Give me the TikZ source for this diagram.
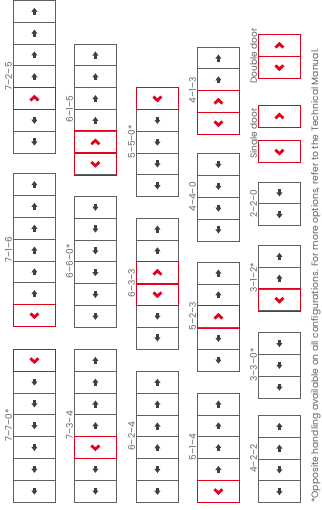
\documentclass[tikz,border=0pt]{standalone}
\usepackage{fontspec}
\setmainfont{Poppins}
\definecolor{cgray}{HTML}{606060}
\definecolor{cdark}{HTML}{404040}
\definecolor{cred}{HTML}{E3001B}
\tikzset{
  cellbox/.style={draw=cgray, line width=0.8pt, minimum width=42pt, minimum height=21.8pt, inner sep=0pt, anchor=north west, fill=white},
  redbox/.style={cellbox, draw=cred},
  grplabel/.style={rotate=90, anchor=base, text=cgray, font=\fontsize{9}{9}\selectfont, inner sep=0pt},
  notetext/.style={rotate=90, anchor=base west, text=cgray, font=\fontsize{9.2}{9.2}\selectfont, inner sep=0pt},
  edgeu/.style={}, edged/.style={},
  edgeU/.style={draw=cred, line width=0.8pt}, edgeD/.style={draw=cred, line width=0.8pt},
  iconu/.pic={\fill[cdark] (-1.2,3.6) rectangle (1.2,0); \fill[cdark] (-3.1,0.6) -- (0,-3.5) -- (3.1,0.6) -- cycle;},
  icond/.pic={\fill[cdark] (-1.2,-3.6) rectangle (1.2,0); \fill[cdark] (-3.1,-0.6) -- (0,3.5) -- (3.1,-0.6) -- cycle;},
  iconU/.pic={\draw[cred, line width=2.8pt] (-4,2) -- (0,-1.8) -- (4,2);},
  iconD/.pic={\draw[cred, line width=2.8pt] (-4,-2) -- (0,1.8) -- (4,-2);},
}
\newcommand\cellgroup[5]{%
  \foreach \t [count=\i] in {#4}{%
    \pgfmathsetmacro\yy{#3+(\i-1)*21.8}%
    \node[cellbox] (#1-\i) at (#2,\yy) {};
    \pic at (#1-\i.center) {icon\t};
    \xdef\lastn{\i}%
  }%
  \foreach \t [count=\i] in {#4}{%
    \path[edge\t] (#1-\i.north west) rectangle (#1-\i.south east);
  }%
  \pgfmathsetmacro\yc{#3+\lastn*10.9}%
  \node[grplabel] (#1-lab) at (#2-1.2,\yc) {#5};
}
\begin{document}
\begin{tikzpicture}[x=1pt,y=-1pt]
\useasboundingbox (0,0) rectangle (321,510);
\cellgroup{g725}{13}{0}{u,u,u,u,U,d,d}{7–2–5}
\cellgroup{g716}{13}{173.3}{u,u,u,u,u,u,D}{7–1–6}
\cellgroup{g770}{13}{349}{D,d,d,d,d,d,d}{7–7–0*}
\cellgroup{g615}{74}{43.7}{u,u,u,u,U,D}{6–1–5}
\cellgroup{g660}{74}{196}{d,d,d,d,d,d}{6–6–0*}
\cellgroup{g734}{74}{349}{u,u,u,u,D,d,d}{7–3–4}
\cellgroup{g550}{136}{87.3}{D,d,d,d,d}{5–5–0*}
\cellgroup{g633}{136}{217.7}{u,u,U,D,d,d}{6–3–3}
\cellgroup{g624}{136}{371}{u,u,u,u,d,d}{6–2–4}
\cellgroup{g413}{197}{46.7}{u,u,U,D}{4–1–3}
\cellgroup{g440}{197}{153.3}{d,d,d,d}{4–4–0}
\cellgroup{g523}{197}{261.7}{u,u,U,d,d}{5–2–3}
\cellgroup{g514}{197}{392.7}{u,u,u,u,D}{5–1–4}
\cellgroup{gdd}{258}{34.3}{U,D}{Double door}
\cellgroup{g220}{258}{181.7}{d,d}{2–2–0}
\cellgroup{g312}{258}{245}{u,u,D}{3–1–2*}
\cellgroup{g330}{258}{332.3}{d,d,d}{3–3–0*}
\cellgroup{g422}{258}{415}{u,u,d,d}{4–2–2}
% single door
\node[redbox] (sd-1) at (258,105) {};
\pic at (sd-1.center) {iconU};
\node[redbox] (sd-2) at (258,140.5) {};
\pic at (sd-2.center) {iconD};
\node[grplabel] (sd-lab) at (256.8,133.5) {Single door};
% footnote
\node[notetext] (note) at (318.2,503) {*Opposite handling available on all configurations. For more options, refer to the Technical Manual.};
\end{tikzpicture}
\end{document}
